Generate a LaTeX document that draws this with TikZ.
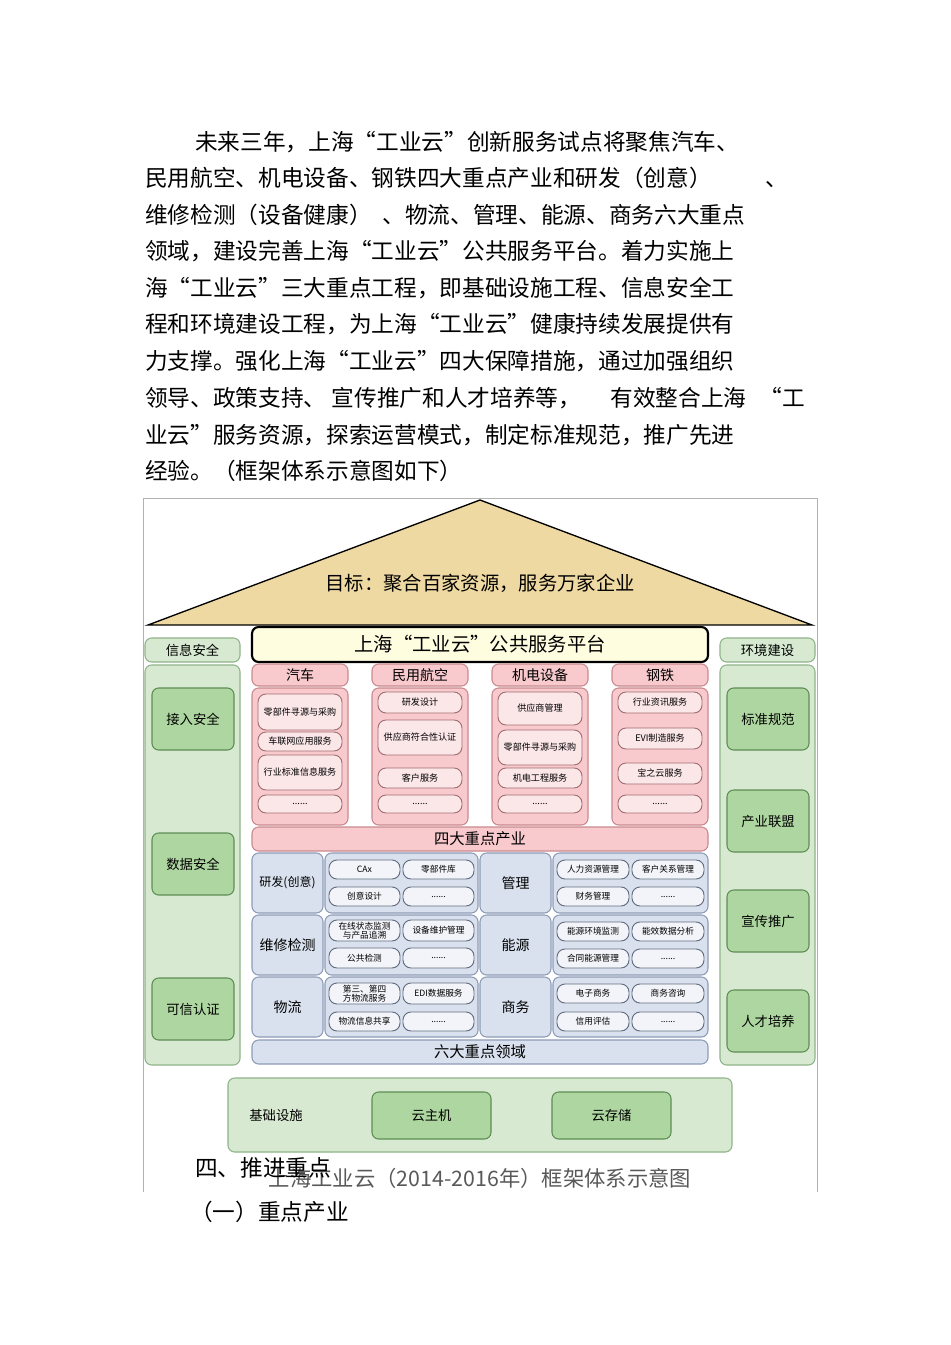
\documentclass[tikz,border=0pt]{standalone}
\usepackage{fontspec}
\setmainfont{Noto Sans CJK SC}
\XeTeXlinebreaklocale "zh"
\XeTeXlinebreakskip=0pt
\begin{document}
\begin{tikzpicture}[x=0.75pt,y=-0.75pt,
  pk/.style={draw=pinkline,fill=pinkfill,rounded corners=5pt,line width=0.8pt},
  pkh/.style={pk,font=\fontsize{10.5}{12}\selectfont},
  pit/.style={draw=pinkline!80!black,fill=pinkitem,rounded corners=6pt,line width=0.7pt,font=\fontsize{6.8}{7.5}\selectfont},
  bl/.style={draw=blueline,fill=bluefill,rounded corners=5pt,line width=0.8pt,font=\fontsize{10.5}{12}\selectfont},
  bit/.style={draw=blueline!70!black,fill=blueitem,rounded corners=6pt,line width=0.7pt,font=\fontsize{6.5}{7}\selectfont},
  gb/.style={draw=greenline,fill=greenfill,rounded corners=5pt,line width=0.8pt,font=\fontsize{10}{12}\selectfont},
  gi/.style={draw=greendark,fill=greenitem,rounded corners=5pt,line width=0.8pt,font=\fontsize{10}{12}\selectfont},
  body/.style={anchor=west,inner sep=0pt,font=\fontsize{17}{20}\selectfont}]
\definecolor{pinkline}{HTML}{C9898E}
\definecolor{pinkfill}{HTML}{F8C9CD}
\definecolor{pinkitem}{HTML}{FBE6E8}
\definecolor{blueline}{HTML}{8C9BB6}
\definecolor{bluefill}{HTML}{D9E1EE}
\definecolor{blueitem}{HTML}{F3F4F9}
\definecolor{greenline}{HTML}{8FB38A}
\definecolor{greenfill}{HTML}{D7EAD1}
\definecolor{greenitem}{HTML}{AED6A0}
\definecolor{greendark}{HTML}{5E8D55}
\definecolor{roof}{HTML}{EFD9A2}
\newcommand\bxx[7]{\pgfmathsetmacro\cx{(#3+#5)/2}\pgfmathsetmacro\cy{(#4+#6)/2}\pgfmathsetmacro\ww{(#5-#3)*0.75}\pgfmathsetmacro\hh{(#6-#4)*0.75}\pgfmathsetmacro\tw{\ww-6}\node[#2,minimum width=\ww pt,minimum height=\hh pt,inner ysep=0pt,inner xsep=3pt,text width=\tw pt,align=center] (#1) at (\cx,\cy) {#7};}
\useasboundingbox[fill=white] (0,0) rectangle (950,1345);
% body text
\node[body] (t1) at (195,142) {未来三年，上海“工业云”创新服务试点将聚焦汽车、};
\node[body] (t2) at (145,178) {民用航空、机电设备、钢铁四大重点产业和研发（创意）\hspace{40pt}、};
\node[body] (t3) at (145,215) {维修检测（设备健康）\hspace{8pt}、物流、管理、能源、商务六大重点};
\node[body] (t4) at (145,251) {领域，建设完善上海“工业云”公共服务平台。着力实施上};
\node[body] (t5) at (145,288) {海“工业云”三大重点工程，即基础设施工程、信息安全工};
\node[body] (t6) at (145,324) {程和环境建设工程，为上海“工业云”健康持续发展提供有};
\node[body] (t7) at (145,361) {力支撑。强化上海“工业云”四大保障措施，通过加强组织};
\node[body] (t8) at (145,398) {领导、政策支持、\hspace{4pt}宣传推广和人才培养等，\hspace{22pt}有效整合上海\hspace{10pt}“工};
\node[body] (t9) at (145,435) {业云”服务资源，探索运营模式，制定标准规范，推广先进};
\node[body] (t10) at (145,471) {经验。（框架体系示意图如下）};
% frame
\draw[gray!60,line width=0.6pt] (143,1192) -- (143,498) -- (817,498) -- (817,1192);
% roof
\draw[black,line width=1pt,fill=roof] (480,500) -- (812,625) -- (148,625) -- cycle;
\node[font=\fontsize{14.5}{16}\selectfont] (goal) at (480,583) {目标：聚合百家资源，服务万家企业};
% platform
\bxx{plat}{draw=black,line width=1.6pt,fill=yellow!12,rounded corners=5pt,font=\fontsize{14.5}{16}\selectfont}{252}{627}{708}{662}{上海“工业云”公共服务平台}
% left column
\bxx{lb}{gb}{145}{665}{240}{1065}{}
\bxx{lh}{gb}{145}{638}{240}{662}{信息安全}
\bxx{l1}{gi}{152}{688}{234}{750}{接入安全}
\bxx{l2}{gi}{152}{833}{234}{895}{数据安全}
\bxx{l3}{gi}{152}{978}{234}{1040}{可信认证}
% right column
\bxx{rb}{gb}{720}{665}{815}{1065}{}
\bxx{rh}{gb}{720}{638}{815}{662}{环境建设}
\bxx{r1}{gi}{727}{688}{809}{750}{标准规范}
\bxx{r2}{gi}{727}{790}{809}{852}{产业联盟}
\bxx{r3}{gi}{727}{890}{809}{952}{宣传推广}
\bxx{r4}{gi}{727}{990}{809}{1052}{人才培养}
% industries
\bxx{ah}{pkh}{252}{664}{348}{686}{汽车}
\bxx{ab}{pk}{252}{688}{348}{825}{}
\bxx{a1}{pit}{258}{694}{342}{730}{零部件寻源与采购}
\bxx{a2}{pit}{258}{732}{342}{751}{车联网应用服务}
\bxx{a3}{pit}{258}{755}{342}{790}{行业标准信息服务}
\bxx{a4}{pit}{258}{795}{342}{813}{......}
\bxx{bh}{pkh}{372}{664}{468}{686}{民用航空}
\bxx{bb}{pk}{372}{688}{468}{825}{}
\bxx{b1}{pit}{378}{692}{462}{713}{研发设计}
\bxx{b2}{pit}{378}{720}{462}{755}{供应商符合性认证}
\bxx{b3}{pit}{378}{768}{462}{788}{客户服务}
\bxx{b4}{pit}{378}{795}{462}{813}{......}
\bxx{ch}{pkh}{492}{664}{588}{686}{机电设备}
\bxx{cb}{pk}{492}{688}{588}{825}{}
\bxx{c1}{pit}{498}{692}{582}{725}{供应商管理}
\bxx{c2}{pit}{498}{730}{582}{765}{零部件寻源与采购}
\bxx{c3}{pit}{498}{768}{582}{788}{机电工程服务}
\bxx{c4}{pit}{498}{795}{582}{813}{......}
\bxx{dh}{pkh}{612}{664}{708}{686}{钢铁}
\bxx{db}{pk}{612}{688}{708}{825}{}
\bxx{d1}{pit}{618}{692}{702}{713}{行业资讯服务}
\bxx{d2}{pit}{618}{728}{702}{749}{EVI制造服务}
\bxx{d3}{pit}{618}{763}{702}{784}{宝之云服务}
\bxx{d4}{pit}{618}{795}{702}{813}{......}
\bxx{four}{pk,font=\fontsize{11.5}{13}\selectfont}{252}{827}{708}{851}{四大重点产业}
% six domains
\bxx{s1}{bl,font=\fontsize{9}{11}\selectfont}{252}{853}{323}{913}{研发(创意)}
\bxx{s1b}{bl}{325}{853}{478}{913}{}
\bxx{s1a}{bit}{329}{860}{400}{879}{CAx}
\bxx{s1c}{bit}{403}{860}{474}{879}{零部件库}
\bxx{s1d}{bit}{329}{887}{400}{906}{创意设计}
\bxx{s1e}{bit}{403}{887}{474}{906}{......}
\bxx{s2}{bl}{480}{853}{551}{913}{管理}
\bxx{s2b}{bl}{553}{853}{708}{913}{}
\bxx{s2a}{bit}{557}{860}{629}{879}{人力资源管理}
\bxx{s2c}{bit}{632}{860}{704}{879}{客户关系管理}
\bxx{s2d}{bit}{557}{887}{629}{906}{财务管理}
\bxx{s2e}{bit}{632}{887}{704}{906}{......}
\bxx{s3}{bl}{252}{915}{323}{975}{维修检测}
\bxx{s3b}{bl}{325}{915}{478}{975}{}
\bxx{s3a}{bit}{329}{920}{400}{941}{在线状态监测与产品追溯}
\bxx{s3c}{bit}{403}{920}{474}{941}{设备维护管理}
\bxx{s3d}{bit}{329}{948}{400}{968}{公共检测}
\bxx{s3e}{bit}{403}{948}{474}{968}{......}
\bxx{s4}{bl}{480}{915}{551}{975}{能源}
\bxx{s4b}{bl}{553}{915}{708}{975}{}
\bxx{s4a}{bit}{557}{922}{629}{941}{能源环境监测}
\bxx{s4c}{bit}{632}{922}{704}{941}{能效数据分析}
\bxx{s4d}{bit}{557}{949}{629}{968}{合同能源管理}
\bxx{s4e}{bit}{632}{949}{704}{968}{......}
\bxx{s5}{bl}{252}{977}{323}{1037}{物流}
\bxx{s5b}{bl}{325}{977}{478}{1037}{}
\bxx{s5a}{bit}{329}{983}{400}{1004}{第三、第四方物流服务}
\bxx{s5c}{bit}{403}{983}{474}{1004}{EDI数据服务}
\bxx{s5d}{bit}{329}{1012}{400}{1031}{物流信息共享}
\bxx{s5e}{bit}{403}{1012}{474}{1031}{......}
\bxx{s6}{bl}{480}{977}{551}{1037}{商务}
\bxx{s6b}{bl}{553}{977}{708}{1037}{}
\bxx{s6a}{bit}{557}{984}{629}{1003}{电子商务}
\bxx{s6c}{bit}{632}{984}{704}{1003}{商务咨询}
\bxx{s6d}{bit}{557}{1012}{629}{1031}{信用评估}
\bxx{s6e}{bit}{632}{1012}{704}{1031}{......}
\bxx{six}{bl,font=\fontsize{11.5}{13}\selectfont}{252}{1040}{708}{1064}{六大重点领域}
% infrastructure
\bxx{inf}{gb}{228}{1078}{732}{1152}{}
\node[font=\fontsize{10}{12}\selectfont] (infl) at (276,1115) {基础设施};
\bxx{h1}{gi}{372}{1092}{491}{1139}{云主机}
\bxx{h2}{gi}{552}{1092}{671}{1139}{云存储}
% captions
\node[font=\fontsize{16}{18}\selectfont,text=gray!70!black] (cap) at (480,1178) {上海工业云（2014-2016年）框架体系示意图};
\node[body] (h4) at (195,1168) {四、推进重点};
\node[body] (h5) at (190,1212) {（一）重点产业};
\end{tikzpicture}
\end{document}
